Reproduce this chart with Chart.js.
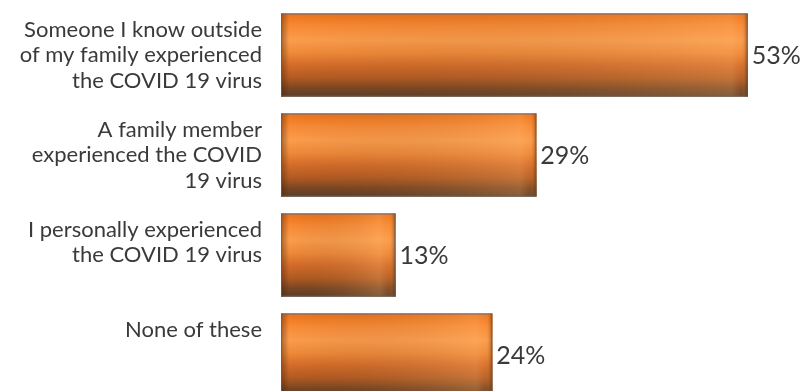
<!DOCTYPE html>
<html>
<head>
<meta charset="utf-8">
<script src="https://cdn.jsdelivr.net/npm/chart.js@4.4.1/dist/chart.umd.min.js"></script>
<style>
  html, body { margin: 0; padding: 0; background: #fff; overflow: hidden; }
  #wrap { width: 804px; height: 405px; }
</style>
</head>
<body>
<div id="wrap"><canvas id="covidChart"></canvas></div>
<script>
// Survey answers (multi-line labels, padded so text sits at the top of each bar)
const categories = [
  ['Someone I know outside', 'of my family experienced', 'the COVID 19 virus'],
  ['A family member', 'experienced the COVID', '19 virus'],
  ['I personally experienced', 'the COVID 19 virus', ''],
  ['None of these', '', '']
];
const values = [53, 29, 13, 24];
const valueLabels = values.map(v => v + '%');

const BAR_THICKNESS = 83;

// Vertical orange "tube" gradient for each bar
function barFill(context) {
  const chart = context.chart;
  const yScale = chart.scales.y;
  if (!yScale || context.type !== 'data') return '#f08a35';
  const c = yScale.getPixelForValue(context.dataIndex);
  if (!Number.isFinite(c)) return '#f08a35';
  const top = c - BAR_THICKNESS / 2;
  const g = chart.ctx.createLinearGradient(0, top, 0, top + BAR_THICKNESS);
  g.addColorStop(0, '#c87a50');
  g.addColorStop(0.04, '#f0781e');
  g.addColorStop(0.15, '#f88a35');
  g.addColorStop(0.32, '#fb9c4c');
  g.addColorStop(0.48, '#ee8838');
  g.addColorStop(0.62, '#d46c2a');
  g.addColorStop(0.78, '#b05a22');
  g.addColorStop(0.9, '#7a4622');
  g.addColorStop(1, '#5a3e2a');
  return g;
}

// Darker ends and a light band near the right end of each bar
const barEnds = {
  id: 'barEnds',
  afterDatasetsDraw(chart) {
    const ctx = chart.ctx;
    chart.getDatasetMeta(0).data.forEach(bar => {
      const left = bar.base, right = bar.x;
      const top = bar.y - bar.height / 2;
      const w = right - left;
      if (!(w > 0)) return;
      const g = ctx.createLinearGradient(left, 0, right, 0);
      g.addColorStop(0, 'rgba(70,35,10,0.45)');
      g.addColorStop(Math.min(0.5, 8 / w), 'rgba(70,35,10,0)');
      g.addColorStop(Math.max(0.5, 1 - 16 / w), 'rgba(255,190,120,0.25)');
      g.addColorStop(Math.max(0.5, 1 - 6 / w), 'rgba(255,170,90,0.1)');
      g.addColorStop(1, 'rgba(70,35,10,0.5)');
      ctx.save();
      ctx.fillStyle = g;
      ctx.fillRect(left, top, w, bar.height);
      ctx.strokeStyle = 'rgba(110,95,85,0.75)';
      ctx.lineWidth = 1;
      ctx.strokeRect(left + 0.5, top + 0.5, w - 1, bar.height - 1);
      ctx.restore();
    });
  }
};

// Percent labels just past the end of each bar
const valueText = {
  id: 'valueText',
  afterDatasetsDraw(chart) {
    const ctx = chart.ctx;
    ctx.save();
    ctx.font = '25px Lato';
    ctx.fillStyle = '#3a3a3a';
    ctx.textAlign = 'left';
    ctx.textBaseline = 'middle';
    chart.getDatasetMeta(0).data.forEach((bar, i) => {
      ctx.fillText(valueLabels[i], bar.x + 4, bar.y + 1);
    });
    ctx.restore();
  }
};

new Chart(document.getElementById('covidChart'), {
  type: 'bar',
  data: {
    labels: categories,
    datasets: [{
      data: values,
      backgroundColor: barFill,
      borderWidth: 0,
      barThickness: BAR_THICKNESS,
      categoryPercentage: 1,
      barPercentage: 1
    }]
  },
  plugins: [barEnds, valueText],
  options: {
    indexAxis: 'y',
    responsive: true,
    maintainAspectRatio: false,
    animation: false,
    layout: { padding: { top: 5, left: 0, right: 0, bottom: 0 } },
    plugins: {
      legend: { display: false },
      tooltip: { enabled: false }
    },
    scales: {
      x: {
        display: false,
        min: 0,
        max: 59.4
      },
      y: {
        grid: { display: false, drawTicks: false },
        border: { display: false },
        afterFit(scale) {
          scale.width = 281;
          // tall multi-line labels should not shrink the plot area
          scale.paddingTop = 0;
          scale.paddingBottom = 0;
        },
        ticks: {
          padding: 19,
          color: '#3a3a3a',
          font: { family: 'Lato', size: 22, lineHeight: 1.16 }
        }
      }
    }
  }
});
</script>
</body>
</html>
